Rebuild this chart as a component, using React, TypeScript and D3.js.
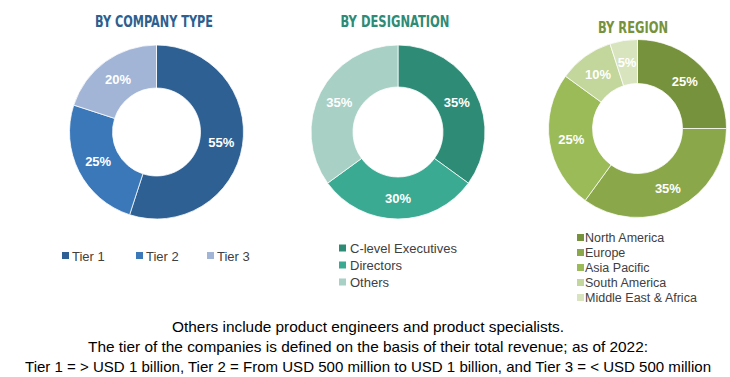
import React from "react";
import * as d3 from "d3";

const companyTypes = ["Tier 1", "Tier 2", "Tier 3"];
const companyValues = [55, 25, 20];
const companyColors = ["#2E6093", "#3A78BA", "#A2B5D6"];

const designations = ["C-level Executives", "Directors", "Others"];
const designationValues = [35, 30, 35];
const designationColors = ["#2E8B76", "#3BAA92", "#A8D0C5"];

const regions = ["North America", "Europe", "Asia Pacific", "South America", "Middle East & Africa"];
const regionValues = [25, 35, 25, 10, 5];
const regionColors = ["#76923C", "#8AA84A", "#9BBB59", "#C3D69B", "#D7E4BD"];

const footnotes = [
  "Others include product engineers and product specialists.",
  "The tier of the companies is defined on the basis of their total revenue; as of 2022:",
  "Tier 1 = > USD 1 billion, Tier 2 = From USD 500 million to USD 1 billion, and Tier 3 = < USD 500 million",
];
const footnoteWidths = [392, 560, 686];

type DonutProps = {
  cx: number;
  cy: number;
  outer: number;
  inner: number;
  values: number[];
  colors: string[];
};

function Donut({ cx, cy, outer, inner, values, colors }: DonutProps) {
  const pie = d3.pie<number>().sort(null).value((d) => d);
  const arcs = pie(values);
  const arc = d3.arc<d3.PieArcDatum<number>>().innerRadius(inner).outerRadius(outer);
  const labelArc = d3
    .arc<d3.PieArcDatum<number>>()
    .innerRadius((inner + outer) / 2)
    .outerRadius((inner + outer) / 2);
  return (
    <g transform={`translate(${cx},${cy})`}>
      {arcs.map((a, i) => (
        <path key={i} d={arc(a) || ""} fill={colors[i]} stroke="#ffffff" strokeWidth={0.75} />
      ))}
      {arcs.map((a, i) => {
        const [x, y] = labelArc.centroid(a);
        return (
          <text
            key={"l" + i}
            x={x}
            y={y}
            dy="0.35em"
            textAnchor="middle"
            fill="#ffffff"
            fontFamily="'Liberation Sans', Arial, sans-serif"
            fontWeight="bold"
            fontSize={13}
          >
            {a.data}%
          </text>
        );
      })}
    </g>
  );
}

export default function App() {
  const titleFont = "'Liberation Sans Narrow', 'DejaVu Sans Condensed', Arial, sans-serif";
  const legendFont = "'Liberation Sans', Arial, sans-serif";
  const companyLegendX = [62, 136, 207];
  return (
    <svg
      width={730}
      height={377}
      style={{ position: "absolute", left: 0, top: 0, background: "#ffffff" }}
    >
      <rect width={730} height={377} fill="#ffffff" />
      {/* Titles */}
      <text x={154} y={27} textAnchor="middle" fill="#2E5F8E" fontFamily={titleFont} fontWeight="bold" fontSize={16.5} textLength={118} lengthAdjust="spacingAndGlyphs">
        BY COMPANY TYPE
      </text>
      <text x={395} y={27} textAnchor="middle" fill="#2E8B76" fontFamily={titleFont} fontWeight="bold" fontSize={16.5} textLength={109} lengthAdjust="spacingAndGlyphs">
        BY DESIGNATION
      </text>
      <text x={633} y={33} textAnchor="middle" fill="#76923C" fontFamily={titleFont} fontWeight="bold" fontSize={16} textLength={70} lengthAdjust="spacingAndGlyphs">
        BY REGION
      </text>

      <Donut cx={156.5} cy={132} outer={87} inner={44} values={companyValues} colors={companyColors} />
      <Donut cx={398} cy={132} outer={87} inner={45} values={designationValues} colors={designationColors} />
      <Donut cx={637.5} cy={128.5} outer={89} inner={45} values={regionValues} colors={regionColors} />

      {/* Company legend */}
      {companyTypes.map((t, i) => (
        <g key={t}>
          <rect x={companyLegendX[i]} y={252} width={7} height={7} fill={companyColors[i]} />
          <text x={companyLegendX[i] + 10} y={256} dy="0.35em" fill="#404040" fontFamily={legendFont} fontSize={13}>
            {t}
          </text>
        </g>
      ))}

      {/* Designation legend */}
      {designations.map((t, i) => (
        <g key={t}>
          <rect x={339} y={248 + i * 17 - 3.5} width={7} height={7} fill={designationColors[i]} />
          <text x={350} y={248 + i * 17} dy="0.35em" fill="#404040" fontFamily={legendFont} fontSize={13}>
            {t}
          </text>
        </g>
      ))}

      {/* Region legend */}
      {regions.map((t, i) => (
        <g key={t}>
          <rect x={577} y={237.5 + i * 15 - 3.5} width={7} height={7} fill={regionColors[i]} />
          <text x={585} y={237.5 + i * 15} dy="0.35em" fill="#404040" fontFamily={legendFont} fontSize={12.5}>
            {t}
          </text>
        </g>
      ))}

      {/* Footnotes */}
      {footnotes.map((f, i) => (
        <text
          key={i}
          x={368}
          y={332 + i * 20}
          textAnchor="middle"
          fill="#000000"
          fontFamily="'Liberation Sans', Arial, sans-serif"
          fontSize={15}
          textLength={footnoteWidths[i]}
          lengthAdjust="spacingAndGlyphs"
        >
          {f}
        </text>
      ))}
    </svg>
  );
}
